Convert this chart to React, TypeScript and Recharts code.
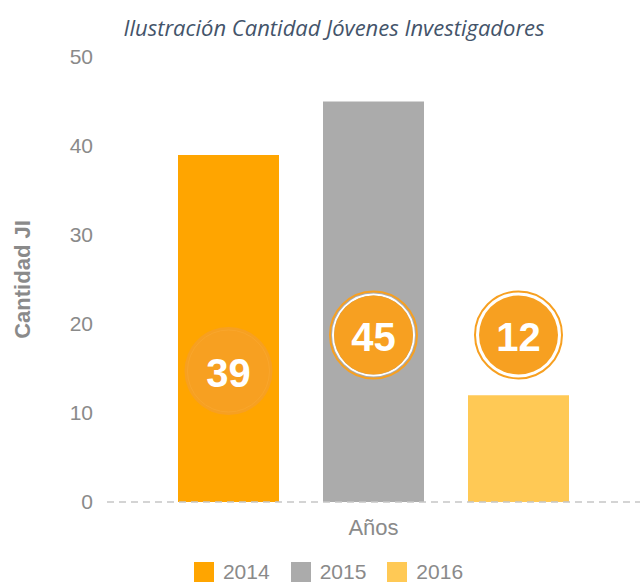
import React from 'react';
import { BarChart, Bar, XAxis, YAxis, Legend, LabelList } from 'recharts';

// values
const years = ['2014', '2015', '2016'];
const counts = [39, 45, 12];
const yTicks = [0, 10, 20, 30, 40, 50];
const category = 'Años';

const BAR_COLORS = ['#FFA500', '#ABABAB', '#FFC955'];
const BADGE = '#F7A021';
const GREY = '#8A8A8A';
const FONT = '"Liberation Sans", Arial, sans-serif';

// how far above the bar bottom each badge sits (px)
const BADGE_LIFT = [131, 167, 167];

const row: Record<string, string | number> = { name: category };
years.forEach((y, i) => {
  row[y] = counts[i];
});
const data = [row];

const makeBadge = (idx: number) => (props: any) => {
  const { x, y, width, height, value } = props;
  const cx = Number(x) + Number(width) / 2;
  const cy = Number(y) + Number(height) - BADGE_LIFT[idx];
  const onBar = idx === 0;
  return (
    <g>
      {onBar ? (
        <>
          <circle cx={cx} cy={cy} r={44} fill={BADGE} />
          <circle cx={cx} cy={cy} r={41} fill="none" stroke="#F9A62C" strokeWidth={1} />
        </>
      ) : (
        <>
          <circle cx={cx} cy={cy} r={43.5} fill="none" stroke={BADGE} strokeWidth={2} />
          <circle cx={cx} cy={cy} r={40.5} fill="none" stroke="#ffffff" strokeWidth={2} />
          <circle cx={cx} cy={cy} r={39.5} fill={BADGE} />
        </>
      )}
      <text
        x={cx}
        y={cy + 2}
        textAnchor="middle"
        dominantBaseline="central"
        fill="#ffffff"
        fontFamily={FONT}
        fontWeight="bold"
        fontSize={40}
      >
        {value}
      </text>
    </g>
  );
};

const renderLegend = () => (
  <div
    style={{
      display: 'flex',
      justifyContent: 'center',
      paddingLeft: 17,
      height: 22,
      alignItems: 'flex-end',
      fontFamily: FONT,
      fontSize: 21,
      color: GREY,
    }}
  >
    {years.map((y, i) => (
      <div key={y} style={{ display: 'flex', alignItems: 'center', marginRight: i < years.length - 1 ? 21 : 0 }}>
        <span style={{ width: 20, height: 20, background: BAR_COLORS[i], display: 'inline-block', marginRight: 9 }} />
        <span style={{ lineHeight: '20px' }}>{y}</span>
      </div>
    ))}
  </div>
);

export default function App() {
  return (
    <div style={{ position: 'absolute', left: 0, top: 0, width: 643, height: 582, background: '#fff' }}>
      <div
        style={{
          position: 'absolute',
          top: 12,
          left: 0,
          width: 643,
          textAlign: 'center',
          fontFamily: '"Open Sans", "Noto Sans", sans-serif',
          fontStyle: 'italic',
          fontSize: 22,
          color: '#44546A',
          paddingLeft: 25,
          boxSizing: 'border-box',
          whiteSpace: 'nowrap',
        }}
      >
        Ilustración Cantidad Jóvenes Investigadores
      </div>
      <BarChart
        width={643}
        height={582}
        data={data}
        margin={{ top: 57, right: 3, bottom: 0, left: 0 }}
        barSize={101}
        barGap={44}
      >
        <XAxis
          dataKey="name"
          height={58}
          tickLine={false}
          tickMargin={11}
          axisLine={{ stroke: '#C6C6C6', strokeWidth: 1.5, strokeDasharray: '7 5' }}
          tick={{ fill: GREY, fontSize: 22, fontFamily: FONT }}
        />
        <YAxis
          domain={[0, 50]}
          ticks={yTicks}
          width={107}
          axisLine={false}
          tickLine={false}
          tickMargin={8}
          tick={{ fill: GREY, fontSize: 21, fontFamily: FONT }}
          label={{
            value: 'Cantidad JI',
            angle: -90,
            position: 'insideLeft',
            offset: 22,
            style: { textAnchor: 'middle', fill: GREY, fontSize: 22, fontWeight: 'bold', fontFamily: FONT },
          }}
        />
        <Legend verticalAlign="bottom" height={22} content={renderLegend} />
        {years.map((y, i) => (
          <Bar key={y} dataKey={y} fill={BAR_COLORS[i]} isAnimationActive={false}>
            <LabelList dataKey={y} content={makeBadge(i)} />
          </Bar>
        ))}
      </BarChart>
    </div>
  );
}
